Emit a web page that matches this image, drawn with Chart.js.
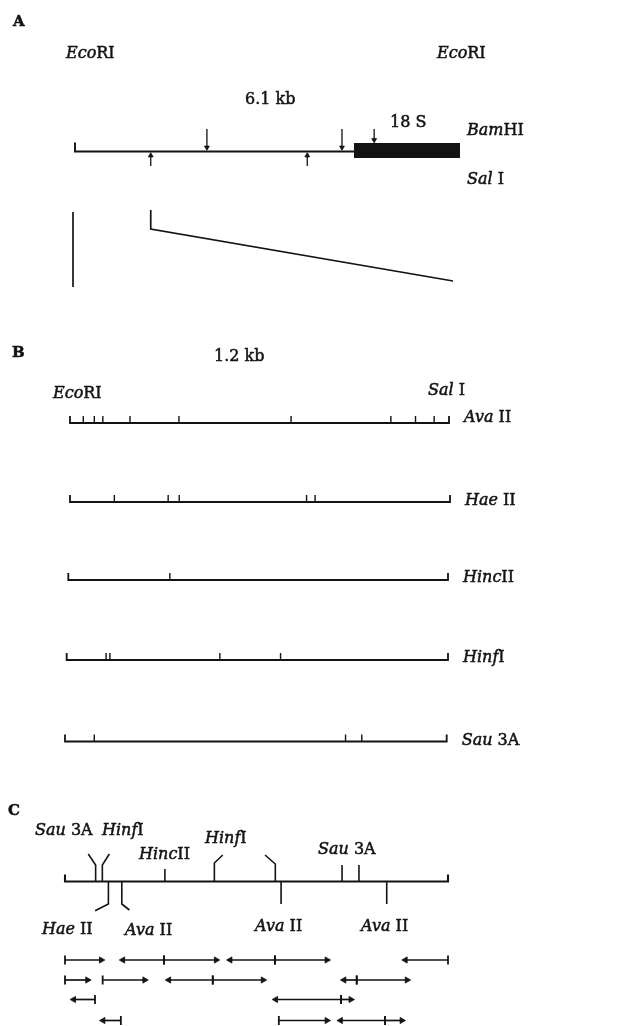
<!DOCTYPE html>
<html>
<head>
<meta charset="utf-8">
<script src="https://cdn.jsdelivr.net/npm/chart.js@4.4.1/dist/chart.umd.min.js"></script>
<style>
  html, body { margin: 0; padding: 0; background: #fff; }
  #wrap { width: 641px; height: 1026px; }
</style>
</head>
<body>
<div id="wrap"><canvas id="map" width="641" height="1026"></canvas></div>
<script>
// A: the 6.1 kb EcoRI fragment, positions in kb
const ecoFragmentKb = 6.1;
const bamHIKb = [2.09, 4.23, 4.74];
const salIKb = [1.2, 3.68];
const rDNA18SKb = [4.42, 6.1];
const zoomEndKb = 5.99;

// B: the 1.2 kb EcoRI-SalI piece, sites in bp
const subFragmentBp = 1200;
const enzymes = ['*Ava* II', '*Hae* II', '*Hinc*II', '*Hinf*I', '*Sau* 3A'];
const avaIIBp = [42, 77, 104, 190, 345, 700, 1016, 1094, 1153];
const haeIIBp = [140, 310, 345, 747, 774];
const hincIIBp = [321];
const hinfIBp = [124, 136, 482, 673];
const sau3ABp = [92, 882, 933];
const sitesByEnzyme = [avaIIBp, haeIIBp, hincIIBp, hinfIBp, sau3ABp];

// C: sites used for sequencing (bp) and the sequencing runs [start, end]
const sitesAboveBp = [96, 117, 313, 468, 659, 868, 921];
const sitesBelowBp = [136, 178, 677, 1008];
const runsRow1 = [[0, 123], [310, 172], [310, 483], [658, 508], [658, 830], [1200, 1057]];
const runsRow2 = [[0, 80], [118, 259], [463, 316], [463, 630], [914, 865], [914, 1081]];
const runsRow3 = [[94, 18], [865, 651], [865, 905]];
const runsRow4 = [[175, 110], [670, 830], [1003, 854], [1003, 1065]];
const runRows = [runsRow1, runsRow2, runsRow3, runsRow4];

// ---- layout (pixels) ----
const W = 641, H = 1026;
const INK = '#131313';
const FONT = '"DejaVu Serif", "Liberation Serif", serif';
const panelA = { px0: 75, px1: 460, y: 151.5 };
const rowsB = [
    { y: 423, px0: 70, px1: 449, ly: 422 },
    { y: 502, px0: 70, px1: 450, ly: 505 },
    { y: 580, px0: 68.3, px1: 448, ly: 582 },
    { y: 660, px0: 66.7, px1: 448, ly: 662 },
    { y: 741.5, px0: 65, px1: 446.7, ly: 745 }
];
const panelC = { px0: 65, px1: 448, y: 881.5 };
const leadersAbove = [
    { h: 16.5, dx: -7.4, dy: 11 }, { h: 16.5, dx: 7, dy: 11 }, { h: 12.5 },
    { h: 18.5, dx: 8.4, dy: 8 }, { h: 17.5, dx: -10.3, dy: 9 }, { h: 16.5 }, { h: 16.5 }
];
const leadersBelow = [{ h: 22.5, dx: -13.3, dy: 6.7 }, { h: 22.5, dx: 7.6, dy: 6 }, { h: 22.5 }, { h: 22.5 }];
const seqRowsY = [960, 980, 999.5, 1020.5];

const labels = [
    { t: 'A', x: 13, y: 26, bold: true, size: 15 },
    { t: '*Eco*RI', x: 66, y: 58 },
    { t: '*Eco*RI', x: 437, y: 58 },
    { t: '6.1 kb', x: 245, y: 104 },
    { t: '18 S', x: 390, y: 127 },
    { t: '*Bam*HI', x: 467, y: 135 },
    { t: '*Sal* I', x: 467, y: 184 },
    { t: 'B', x: 12, y: 357, bold: true, size: 15 },
    { t: '1.2 kb', x: 214, y: 361 },
    { t: '*Eco*RI', x: 53, y: 398 },
    { t: '*Sal* I', x: 428, y: 395 },
    { t: 'C', x: 8, y: 815, bold: true, size: 15 },
    { t: '*Sau* 3A', x: 35, y: 835 },
    { t: '*Hinf*I', x: 102, y: 835 },
    { t: '*Hinc*II', x: 139, y: 859 },
    { t: '*Hinf*I', x: 205, y: 843 },
    { t: '*Sau* 3A', x: 318, y: 854 },
    { t: '*Hae* II', x: 42, y: 934 },
    { t: '*Ava* II', x: 125, y: 935 },
    { t: '*Ava* II', x: 255, y: 931 },
    { t: '*Ava* II', x: 361, y: 931 }
];
rowsB.forEach((r, i) => labels.push({ t: enzymes[i], x: r.px1 + 15, y: r.ly }));

// linear axis whose value v0 lands on px0 and v1 on px1
function axisFor(px0, px1, v0, v1) {
    const k = (v1 - v0) / (px1 - px0);
    return { type: 'linear', axis: 'x', position: 'bottom', display: false, min: v0 - px0 * k, max: v0 + (W - px0) * k };
}
function perPx(px0, px1, v0, v1) { return (v1 - v0) / (px1 - px0); }

const scales = {
    y: { type: 'linear', axis: 'y', display: false, min: 0, max: H, reverse: true },
    xA: axisFor(panelA.px0, panelA.px1, 0, ecoFragmentKb),
    xC: axisFor(panelC.px0, panelC.px1, 0, subFragmentBp)
};
rowsB.forEach((r, i) => { scales['xB' + i] = axisFor(r.px0, r.px1, 0, subFragmentBp); });

const datasets = [];
function line(axis, pts, w, extra) {
    datasets.push(Object.assign({
        xAxisID: axis, yAxisID: 'y',
        data: pts.map(p => ({ x: p[0], y: p[1] })),
        showLine: true, borderColor: INK, borderWidth: w,
        pointRadius: 0, clip: false, tension: 0
    }, extra || {}));
}
// arrow with head at the second point
function arrow(axis, p0, p1, w, rot, r, startMark) {
    line(axis, [p0, p1], w, {
        pointStyle: [startMark ? 'line' : 'circle', 'triangle'],
        pointRadius: [startMark ? 4.5 : 0, r],
        pointRotation: [90, rot],
        pointBackgroundColor: INK, pointBorderColor: INK,
        pointBorderWidth: [1.8, 0.8]
    });
}

// ---- panel A ----
const kA = perPx(panelA.px0, panelA.px1, 0, ecoFragmentKb);
line('xA', [[0, panelA.y - 9], [0, panelA.y], [rDNA18SKb[0], panelA.y]], 1.9);
line('xA', [[rDNA18SKb[0], panelA.y - 1], [rDNA18SKb[1], panelA.y - 1]], 15, { borderCapStyle: 'butt' });
bamHIKb.forEach(v => {
    const tip = v > rDNA18SKb[0] ? panelA.y - 8.5 : panelA.y - 1;
    arrow('xA', [v, 129], [v, tip - 3], 1.3, 180, 2.8);
});
salIKb.forEach(v => arrow('xA', [v, 166], [v, panelA.y + 4], 1.3, 0, 2.8));
// expansion lines down to panel B
line('xA', [[0 - 2 * kA, 212], [0 - 2 * kA, 287]], 1.7);
line('xA', [[salIKb[0], 210], [salIKb[0], 229], [zoomEndKb, 281]], 1.7);

// ---- panel B ----
rowsB.forEach((r, i) => {
    const ax = 'xB' + i;
    line(ax, [[0, r.y - 7], [0, r.y], [subFragmentBp, r.y], [subFragmentBp, r.y - 7]], 1.8);
    sitesByEnzyme[i].forEach(s => line(ax, [[s, r.y - 7], [s, r.y]], 1.4));
});

// ---- panel C ----
const kC = perPx(panelC.px0, panelC.px1, 0, subFragmentBp);
const yc = panelC.y;
line('xC', [[0, yc - 7], [0, yc], [subFragmentBp, yc], [subFragmentBp, yc - 7]], 2.1);
sitesAboveBp.forEach((s, i) => {
    const L = leadersAbove[i];
    const pts = [[s, yc], [s, yc - L.h]];
    if (L.dx) pts.push([s + L.dx * kC, yc - L.h - L.dy]);
    line('xC', pts, 1.6);
});
sitesBelowBp.forEach((s, i) => {
    const L = leadersBelow[i];
    const pts = [[s, yc], [s, yc + L.h]];
    if (L.dx) pts.push([s + L.dx * kC, yc + L.h + L.dy]);
    line('xC', pts, 1.6);
});
runRows.forEach((row, i) => {
    const y = seqRowsY[i];
    row.forEach(([a, b]) => {
        const dir = b > a ? 1 : -1;
        arrow('xC', [a, y], [b - dir * 3 * kC, y], 1.7, dir > 0 ? 90 : -90, 3.6, true);
    });
});

// ---- text (thin stroke thickens it like the printed original) ----
function drawRich(ctx, str, x, y, size, bold) {
    let cx = x;
    str.split('*').forEach((p, i) => {
        if (!p) return;
        ctx.font = (i % 2 ? 'italic ' : '') + (bold ? 'bold ' : '') + size + 'px ' + FONT;
        ctx.fillText(p, cx, y);
        ctx.strokeText(p, cx, y);
        cx += ctx.measureText(p).width;
    });
}
const textPlugin = {
    id: 'mapText',
    afterDraw(chart) {
        const ctx = chart.ctx;
        ctx.save();
        ctx.fillStyle = INK;
        ctx.strokeStyle = INK;
        ctx.lineWidth = 0.5;
        ctx.textAlign = 'left';
        ctx.textBaseline = 'alphabetic';
        labels.forEach(l => drawRich(ctx, l.t, l.x, l.y, l.size || 16, l.bold));
        ctx.restore();
    }
};

new Chart(document.getElementById('map'), {
    type: 'scatter',
    data: { datasets },
    options: {
        responsive: false,
        animation: false,
        events: [],
        layout: { padding: 0, autoPadding: false },
        scales,
        plugins: { legend: { display: false }, tooltip: { enabled: false } }
    },
    plugins: [textPlugin]
});
</script>
</body>
</html>
